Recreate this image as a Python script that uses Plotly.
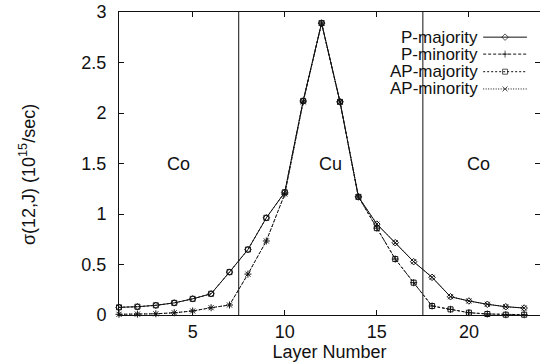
import plotly.graph_objects as go

# Layer index and site-resolved conductance sigma(12, J) in units of 1e15 /sec
layers = list(range(1, 24))

p_majority = [0.076, 0.082, 0.096, 0.120, 0.160, 0.210, 0.425, 0.648, 0.962, 1.215,
              2.120, 2.890, 2.110, 1.170, 0.900, 0.716, 0.528, 0.373, 0.181, 0.139,
              0.106, 0.082, 0.069]
p_minority = [0.007, 0.009, 0.012, 0.022, 0.040, 0.072, 0.099, 0.405, 0.733, 1.198,
              2.110, 2.890, 2.110, 1.170, 0.860, 0.554, 0.320, 0.089, 0.056, 0.023,
              0.010, 0.003, 0.003]
ap_majority = [0.076, 0.082, 0.096, 0.120, 0.160, 0.210, 0.425, 0.648, 0.962, 1.215,
               2.120, 2.890, 2.110, 1.170, 0.860, 0.554, 0.320, 0.089, 0.056, 0.023,
               0.010, 0.003, 0.003]
ap_minority = [0.007, 0.009, 0.012, 0.022, 0.040, 0.072, 0.099, 0.405, 0.733, 1.198,
               2.110, 2.890, 2.110, 1.170, 0.900, 0.716, 0.528, 0.373, 0.181, 0.139,
               0.106, 0.082, 0.069]

series_names = ["P-majority", "P-minority", "AP-majority", "AP-minority"]
interfaces = [7.5, 17.5]
region_labels = ["Co", "Cu", "Co"]
region_centers = [4.25, 12.5, 20.5]

x_ticks = [5, 10, 15, 20]
y_ticks = [0, 0.5, 1, 1.5, 2, 2.5, 3]

FONT = "Liberation Sans, Arial, Helvetica, sans-serif"
INK = "#111111"

styles = [
    dict(dash="solid", symbol="diamond-open"),
    dict(dash="3px,2px", symbol="cross-thin-open"),
    dict(dash="2px,2px", symbol="square-open"),
    dict(dash="1px,1.5px", symbol="x-thin-open"),
]
values = [p_majority, p_minority, ap_majority, ap_minority]

fig = go.Figure()

for name, vals, st in zip(series_names, values, styles):
    fig.add_trace(go.Scatter(
        x=layers, y=vals, name=name, mode="lines+markers",
        line=dict(color=INK, width=1, dash=st["dash"]),
        marker=dict(symbol=st["symbol"], size=5, color=INK,
                    line=dict(color=INK, width=1)),
        cliponaxis=False, showlegend=False,
    ))

# Key: label text on the left, line sample with marker on the right
key_rows = [0.917, 0.861, 0.803, 0.746]
key_x = [0.865, 0.917, 0.969]
for name, st, ry in zip(series_names, styles, key_rows):
    fig.add_trace(go.Scatter(
        x=key_x, y=[ry] * 3, mode="lines+markers", xaxis="x2", yaxis="y2",
        line=dict(color=INK, width=1, dash=st["dash"]),
        marker=dict(symbol=st["symbol"], size=[0, 5, 0], color=INK,
                    line=dict(color=INK, width=1)),
        showlegend=False, hoverinfo="skip", cliponaxis=False,
    ))
    fig.add_annotation(text=name, xref="paper", yref="paper", x=0.858, y=ry,
                       xanchor="right", yanchor="middle", showarrow=False,
                       font=dict(family=FONT, size=17, color=INK))

# Co / Cu interfaces
for xb in interfaces:
    fig.add_shape(type="line", x0=xb, x1=xb, y0=0, y1=3, xref="x", yref="y",
                  line=dict(color=INK, width=1))

for lab, xc in zip(region_labels, region_centers):
    fig.add_annotation(text=lab, x=xc, y=1.5, xref="x", yref="y",
                       showarrow=False, font=dict(family=FONT, size=18, color=INK))

# Y-axis title
fig.add_annotation(text="σ(12,J) (10<sup>15</sup>/sec)", xref="paper", yref="paper",
                   x=-0.2185, y=0.462, textangle=-90, showarrow=False,
                   xanchor="center", yanchor="middle",
                   font=dict(family=FONT, size=18, color=INK))

fig.update_layout(
    width=540, height=364,
    margin=dict(l=119, r=0, t=12, b=49),
    paper_bgcolor="white", plot_bgcolor="white",
    font=dict(family=FONT, size=18, color=INK),
    xaxis=dict(range=[1, 23.86], tickvals=x_ticks, ticks="inside", ticklen=5,
               tickcolor=INK, showline=True, linecolor=INK, linewidth=1,
               mirror="allticks", showgrid=False, zeroline=False,
               title=dict(text="Layer Number", standoff=2,
                          font=dict(family=FONT, size=18, color=INK)),
               tickfont=dict(family=FONT, size=18, color=INK)),
    yaxis=dict(range=[0, 3], tickvals=y_ticks, ticktext=["0", "0.5", "1", "1.5", "2", "2.5", "3"],
               ticks="inside", ticklen=5, tickcolor=INK, showline=True,
               linecolor=INK, linewidth=1, mirror="ticks", showgrid=False,
               zeroline=False, ticklabelstandoff=8,
               tickfont=dict(family=FONT, size=18, color=INK)),
    xaxis2=dict(range=[0, 1], overlaying="x", visible=False, fixedrange=True),
    yaxis2=dict(range=[0, 1], overlaying="y", visible=False, fixedrange=True),
)

fig.write_html("out.html")
